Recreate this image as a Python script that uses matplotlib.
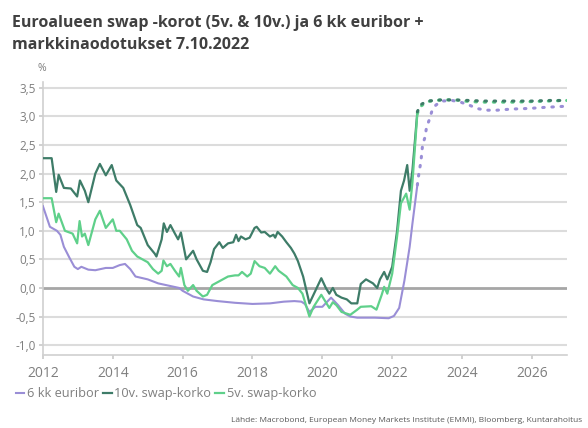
import matplotlib.pyplot as plt
import matplotlib.ticker as mticker

# 10v. swap-korko (toteutunut)
swap10_t = [2012.0, 2012.25, 2012.38, 2012.45, 2012.6, 2012.8, 2012.98, 2013.06, 2013.2, 2013.3,
            2013.5, 2013.63, 2013.8, 2013.97, 2014.1, 2014.3, 2014.5, 2014.7, 2014.8, 2015.0,
            2015.2, 2015.25, 2015.4, 2015.46, 2015.55, 2015.65, 2015.78, 2015.87, 2015.95, 2016.1,
            2016.3, 2016.4, 2016.58, 2016.7, 2016.8, 2016.9, 2017.05, 2017.15, 2017.3, 2017.45,
            2017.53, 2017.6, 2017.67, 2017.8, 2017.92, 2018.06, 2018.12, 2018.25, 2018.35, 2018.5,
            2018.6, 2018.65, 2018.72, 2018.85, 2018.97, 2019.1, 2019.2, 2019.3, 2019.45, 2019.63,
            2019.8, 2019.97, 2020.1, 2020.2, 2020.3, 2020.4, 2020.55, 2020.7, 2020.83, 2021.0,
            2021.1, 2021.25, 2021.45, 2021.57, 2021.65, 2021.77, 2021.86, 2022.0, 2022.14, 2022.25,
            2022.34, 2022.43, 2022.5, 2022.58, 2022.72]
swap10_v = [2.27, 2.27, 1.68, 1.98, 1.75, 1.74, 1.6, 1.88, 1.7, 1.5,
            2.0, 2.17, 1.97, 2.15, 1.88, 1.75, 1.45, 1.1, 1.05, 0.75,
            0.6, 0.55, 0.85, 1.13, 0.98, 1.1, 0.95, 0.85, 0.97, 0.5,
            0.65, 0.5, 0.3, 0.28, 0.45, 0.68, 0.8, 0.7, 0.78, 0.8,
            0.93, 0.82, 0.9, 0.85, 0.88, 1.05, 1.07, 0.97, 0.98, 0.9,
            0.93, 0.88, 0.98, 0.9, 0.8, 0.7, 0.6, 0.47, 0.2, -0.27,
            -0.05, 0.17, 0.0, -0.1, 0.0, -0.12, -0.17, -0.2, -0.27, -0.27,
            0.07, 0.15, 0.08, 0.0, 0.15, 0.28, 0.15, 0.37, 1.0, 1.7,
            1.88, 2.15, 1.7, 2.06, 3.08]

# 5v. swap-korko (toteutunut)
swap5_t = [2012.0, 2012.25, 2012.38, 2012.45, 2012.63, 2012.85, 2012.98, 2013.05, 2013.12, 2013.2,
           2013.3, 2013.5, 2013.63, 2013.8, 2014.0, 2014.1, 2014.2, 2014.4, 2014.55, 2014.7,
           2015.0, 2015.15, 2015.3, 2015.4, 2015.45, 2015.55, 2015.65, 2015.78, 2015.9, 2015.95,
           2016.05, 2016.15, 2016.3, 2016.4, 2016.58, 2016.7, 2016.85, 2017.0, 2017.15, 2017.3,
           2017.5, 2017.6, 2017.7, 2017.85, 2017.95, 2018.06, 2018.2, 2018.35, 2018.5, 2018.65,
           2018.75, 2018.97, 2019.15, 2019.3, 2019.43, 2019.63, 2019.75, 2019.97, 2020.2, 2020.3,
           2020.4, 2020.55, 2020.8, 2021.0, 2021.1, 2021.4, 2021.55, 2021.7, 2021.77, 2021.86,
           2022.0, 2022.14, 2022.25, 2022.4, 2022.5, 2022.58, 2022.72]
swap5_v = [1.57, 1.57, 1.15, 1.3, 1.0, 0.95, 0.78, 1.17, 0.9, 0.95,
           0.75, 1.2, 1.35, 1.05, 1.2, 1.0, 1.0, 0.85, 0.65, 0.55,
           0.45, 0.33, 0.25, 0.3, 0.48, 0.38, 0.42, 0.3, 0.2, 0.35,
           0.05, -0.05, 0.05, -0.05, -0.15, -0.12, 0.05, 0.1, 0.15, 0.2,
           0.22, 0.22, 0.28, 0.2, 0.25, 0.47, 0.38, 0.35, 0.25, 0.38,
           0.3, 0.2, 0.05, 0.0, -0.1, -0.5, -0.33, -0.12, -0.35, -0.25,
           -0.3, -0.42, -0.47, -0.38, -0.33, -0.32, -0.38, -0.12, 0.02, -0.1,
           0.25, 0.9, 1.48, 1.65, 1.37, 1.85, 3.05]

# 6 kk euribor (toteutunut)
euribor_t = [2012.0, 2012.2, 2012.4, 2012.5, 2012.6, 2012.75, 2012.9, 2013.0, 2013.1, 2013.3,
             2013.5, 2013.8, 2014.0, 2014.2, 2014.35, 2014.5, 2014.65, 2015.0, 2015.3, 2015.6,
             2015.9, 2016.0, 2016.3, 2016.6, 2017.0, 2017.5, 2018.0, 2018.5, 2018.9, 2019.2,
             2019.4, 2019.5, 2019.63, 2019.8, 2020.0, 2020.25, 2020.45, 2020.65, 2020.8, 2021.0,
             2021.5, 2021.9, 2022.05, 2022.2, 2022.35, 2022.5, 2022.58, 2022.72]
euribor_v = [1.43, 1.07, 1.0, 0.93, 0.72, 0.54, 0.37, 0.33, 0.37, 0.32,
             0.31, 0.35, 0.35, 0.4, 0.42, 0.33, 0.2, 0.15, 0.08, 0.04,
             0.0, -0.05, -0.15, -0.2, -0.23, -0.26, -0.28, -0.27, -0.24, -0.23,
             -0.24, -0.28, -0.42, -0.33, -0.33, -0.17, -0.3, -0.45, -0.5, -0.52,
             -0.52, -0.53, -0.49, -0.35, 0.13, 0.72, 1.13, 1.8]

# markkinaodotukset (ennuste)
swap10_f_t = [2022.72, 2022.8, 2023.0, 2023.4, 2023.8, 2024.2, 2024.6, 2025.0, 2025.5, 2026.0, 2026.5, 2027.0]
swap10_f_v = [3.08, 3.2, 3.27, 3.29, 3.29, 3.28, 3.27, 3.27, 3.27, 3.27, 3.28, 3.28]
swap5_f_t = [2022.72, 2022.8, 2023.0, 2023.4, 2023.8, 2024.2, 2024.6, 2025.0, 2025.5, 2026.0, 2026.5, 2027.0]
swap5_f_v = [3.05, 3.17, 3.26, 3.29, 3.29, 3.26, 3.25, 3.25, 3.25, 3.26, 3.27, 3.28]
euribor_f_t = [2022.72, 2022.77, 2022.82, 2022.87, 2022.94, 2022.98, 2023.06, 2023.13, 2023.25, 2023.43,
               2023.72, 2023.96, 2024.2, 2024.43, 2024.67, 2025.0, 2025.43, 2025.9, 2026.39, 2027.0]
euribor_f_v = [1.8, 2.03, 2.2, 2.5, 2.64, 2.8, 2.94, 3.08, 3.2, 3.27,
               3.28, 3.25, 3.2, 3.14, 3.11, 3.11, 3.13, 3.14, 3.16, 3.18]

yticks = [-1.0, -0.5, 0.0, 0.5, 1.0, 1.5, 2.0, 2.5, 3.0, 3.5]
xticks = [2012, 2014, 2016, 2018, 2020, 2022, 2024, 2026]

c_eur = "#9a8ed6"
c_10 = "#3e7c68"
c_5 = "#5fd08a"
gray = "#7f7f7f"

plt.rcParams["font.family"] = ["Open Sans", "DejaVu Sans"]

fig = plt.figure(figsize=(5.88, 4.28), dpi=100)
ax = fig.add_axes([0.073, 0.171, 0.891, 0.637])

for y in yticks:
    if y == 0:
        ax.axhline(y, color="#a6a6a6", lw=2.0, zorder=1)
    else:
        ax.axhline(y, color="#dcdcdc", lw=1.5, zorder=0)

ax.plot(euribor_t, euribor_v, color=c_eur, lw=1.5, zorder=3, label="6 kk euribor")
ax.plot(swap10_t, swap10_v, color=c_10, lw=1.6, zorder=3, label="10v. swap-korko")
ax.plot(swap5_t, swap5_v, color=c_5, lw=1.6, zorder=3, label="5v. swap-korko")

# ennusteet pisteviivana
dots = dict(lw=2.2, linestyle=(0, (0.5, 2.5)), dash_capstyle="round", zorder=3)
ax.plot(euribor_f_t, euribor_f_v, color=c_eur, **dots)
ax.plot(swap5_f_t, swap5_f_v, color=c_5, **dots)
ax.plot(swap10_f_t, swap10_f_v, color=c_10, **dots)

ax.set_xlim(2012, 2027)
ax.set_ylim(-1.17, 3.6)
ax.set_yticks(yticks)
ax.set_xticks(xticks)
ax.yaxis.set_major_formatter(mticker.FuncFormatter(lambda v, p: f"{v:.1f}".replace(".", ",")))

for s in ["top", "right"]:
    ax.spines[s].set_visible(False)
for s in ["left", "bottom"]:
    ax.spines[s].set_color("#d0d0d0")
    ax.spines[s].set_linewidth(1.2)
ax.tick_params(axis="both", colors="#c8c8c8", labelcolor=gray, length=3, width=1.2)
ax.tick_params(axis="x", labelsize=10, pad=5)
ax.tick_params(axis="y", labelsize=8.5, pad=2)

fig.text(0.071, 0.835, "%", color=gray, fontsize=7.5, ha="center")

fig.text(0.02, 0.965, "Euroalueen swap -korot (5v. & 10v.) ja 6 kk euribor +\nmarkkinaodotukset 7.10.2022",
         fontsize=11.5, fontweight="bold", color="#404040", va="top", linespacing=1.5)

ax.legend(loc="upper left", bbox_to_anchor=(-0.062, -0.1), ncol=3, frameon=False,
          fontsize=9.2, labelcolor=gray, handlelength=0.7, handletextpad=0.2, columnspacing=0.3,
          borderaxespad=0)

fig.text(0.99, 0.01, "Lähde: Macrobond, European Money Markets Institute (EMMI), Bloomberg, Kuntarahoitus",
         fontsize=6, color="#595959", ha="right", va="bottom")

fig.savefig("out.png", dpi=100)
